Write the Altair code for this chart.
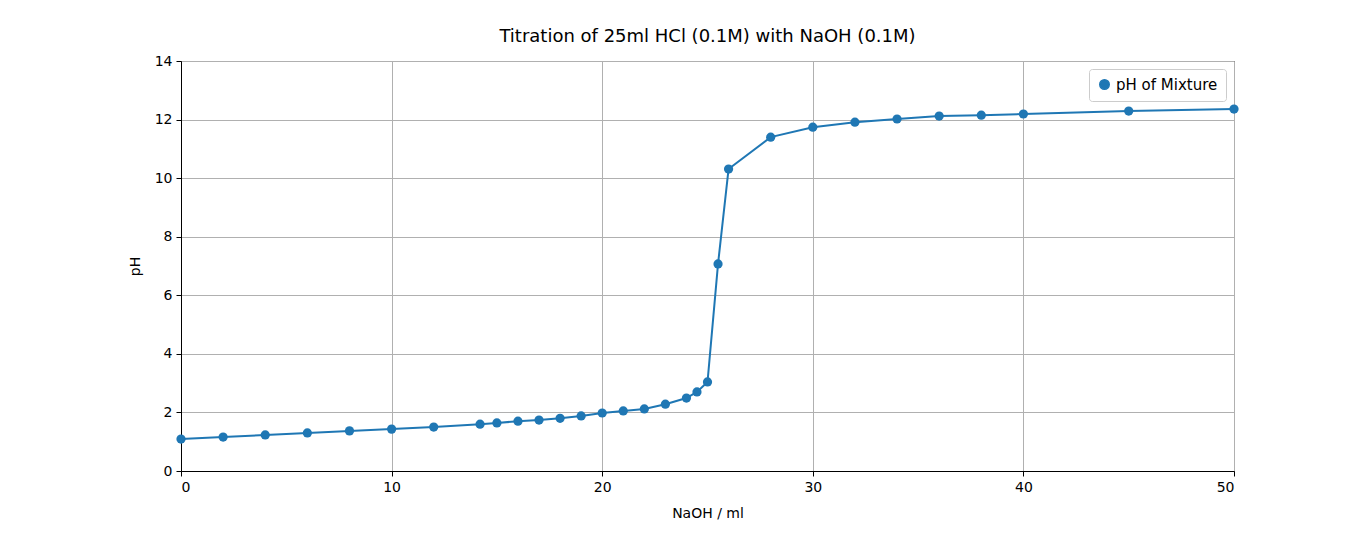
import altair as alt
import pandas as pd

naoh = [0, 2, 4, 6, 8, 10, 12, 14.2, 15, 16, 17, 18, 19, 20, 21, 22, 23, 24, 24.5, 25,
        25.5, 26, 28, 30, 32, 34, 36, 38, 40, 45, 50]
ph = [1.09, 1.16, 1.23, 1.30, 1.37, 1.43, 1.50, 1.60, 1.64, 1.70, 1.74, 1.80, 1.88, 1.98,
      2.05, 2.12, 2.28, 2.49, 2.70, 3.04, 7.07, 10.31, 11.40, 11.74, 11.91, 12.02, 12.12,
      12.15, 12.19, 12.29, 12.36]

df = pd.DataFrame({"naoh": naoh, "ph": ph, "series": "pH of Mixture"})

base = alt.Chart(df).encode(
    x=alt.X("naoh:Q", title="NaOH / ml",
            scale=alt.Scale(domain=[0, 50], nice=False),
            axis=alt.Axis(values=[0, 10, 20, 30, 40, 50], grid=True, titlePadding=12)),
    y=alt.Y("ph:Q", title="pH",
            scale=alt.Scale(domain=[0, 14], nice=False),
            axis=alt.Axis(values=list(range(0, 15, 2)), grid=True, titlePadding=12)),
    color=alt.Color("series:N", title=None,
                    scale=alt.Scale(range=["#1f77b4"]),
                    legend=alt.Legend(orient="top-right", symbolType="circle",
                                      symbolSize=90, labelFontSize=15,
                                      strokeColor="#cccccc", fillColor="white",
                                      padding=8, cornerRadius=3, offset=8)),
)

chart = (base.mark_line(strokeWidth=2) + base.mark_circle(size=85, opacity=1)).properties(
    width=1053, height=410,
    title=alt.Title("Titration of 25ml HCl (0.1M) with NaOH (0.1M)", fontSize=18,
                    fontWeight="normal", font="DejaVu Sans", offset=8),
    padding={"left": 120, "top": 20, "right": 80, "bottom": 5},
).configure_axis(
    labelFont="DejaVu Sans", titleFont="DejaVu Sans", labelFontSize=14, titleFontSize=14,
    titleFontWeight="normal", labelColor="black", titleColor="black",
    domainColor="black", tickColor="black", gridColor="#b0b0b0", tickSize=5,
    labelPadding=4,
).configure_legend(labelFont="DejaVu Sans").configure_view(stroke="black", strokeWidth=1)

chart.save("out.html", embed_options={"renderer": "svg", "actions": False})
